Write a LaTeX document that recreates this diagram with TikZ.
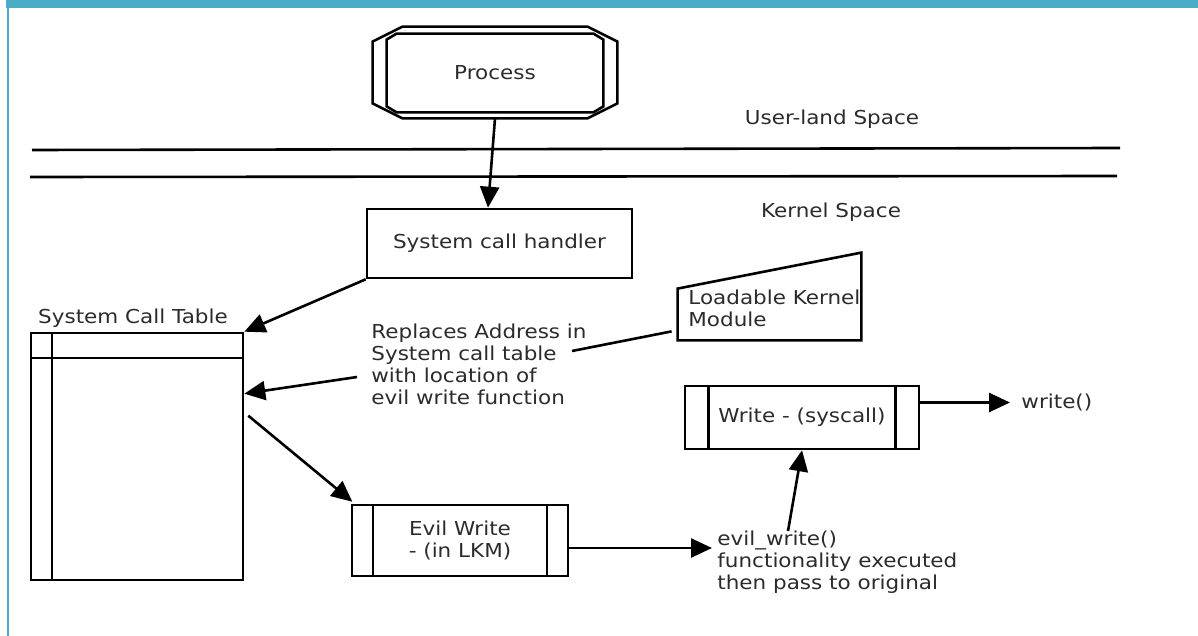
\documentclass[tikz,border=0pt]{standalone}
\usepackage{fontspec}
\setmainfont{DejaVu Sans}[FakeStretch=1.12]
\usepackage{xcolor}
\definecolor{cLine}{HTML}{000000}
\definecolor{cText}{HTML}{2B2B2B}
\definecolor{cFrame}{HTML}{4BACC6}
\usepackage{tikz}
\usetikzlibrary{positioning,arrows.meta}
\tikzset{
  node-box/.style={draw=cLine,line width=1.3pt,inner sep=0pt,align=center,
    text=cText},
  node-text/.style={text=cText,inner sep=0pt,align=left},
  node-line/.style={line width=1.3pt,draw=cLine},
  % predefined process: bars left and right
  node-sub/.style={node-box,path picture={
      \draw[cLine,line width=1.2pt]
        ([xshift=#1]path picture bounding box.north west)
        -- ([xshift=#1]path picture bounding box.south west);
      \draw[cLine,line width=1.2pt]
        ([xshift=-#1]path picture bounding box.north east)
        -- ([xshift=-#1]path picture bounding box.south east);}},
  node-sub/.default=10.5pt,
  node-table/.style={node-box,path picture={
      \draw[cLine,line width=1.1pt]
        ([xshift=10.5pt]path picture bounding box.north west)
        -- ([xshift=10.5pt]path picture bounding box.south west);
      \draw[cLine,line width=1.1pt]
        ([yshift=-12.5pt]path picture bounding box.north west)
        -- ([yshift=-12.5pt]path picture bounding box.north east);}},
  arrow/.style={-{Triangle[length=10.5pt,width=9.5pt]},line width=1.3pt,
    draw=cLine},
  sep-line/.style={line width=1.3pt,draw=cLine},
}

\begin{document}
\begin{tikzpicture}[x=0.5pt,y=-0.5pt,font=\fontsize{9.6}{10.9}\selectfont]
  \useasboundingbox (0,0) rectangle (1198,636);
  \fill[cFrame] (6,0) rectangle (1198,8);
  \draw[cFrame,line width=1pt] (7.5,8) -- (7.5,636);

  % process: two chamfered frames
  \node[node-text,minimum width=122pt,minimum height=45.5pt]
    (proc) at (495,72.5) {Process};
  \node[inner sep=0pt,minimum width=108pt,minimum height=39pt]
    (proc-in) at (495,73) {};
  \foreach \n/\dx/\dy in {proc/15pt/7.5pt,proc-in/5pt/3pt}
    \draw[node-line] ([xshift=\dx]\n.north west) -- ([xshift=-\dx]\n.north east)
      -- ([yshift=-\dy]\n.north east) -- ([yshift=\dy]\n.south east)
      -- ([xshift=-\dx]\n.south east) -- ([xshift=\dx]\n.south west)
      -- ([yshift=\dy]\n.south west) -- ([yshift=-\dy]\n.north west) -- cycle;

  \draw[sep-line] (32,150) -- (1120,148);
  \draw[sep-line] (30,177) -- (1117,176);
  \node[node-text] (user) at (832,119) {User-land Space};
  \node[node-text] (kern) at (831,212) {Kernel Space};

  \node[node-box,minimum width=132.5pt,minimum height=34.5pt]
    (sch) at (499.5,243.5) {System call handler};
  \node[node-table,minimum width=106pt,minimum height=123.5pt]
    (sct) at (137,456.5) {};
  \node[node-text,above=2pt of sct,xshift=-2pt] (sct-lbl) {System Call Table};

  % multi-line text: base = baseline of the last line
  \node[node-text,anchor=base west] (rep) at (371,404)
    {Replaces Address in\\System call table\\with location of\\evil write function};
  \node[minimum width=91.5pt,minimum height=25.5pt,inner sep=0pt]
    (lkm) at (769.5,314.5) {};
  \draw[node-line] (lkm.north west) -- ([yshift=18pt]lkm.north east)
    -- (lkm.south east) -- (lkm.south west) -- cycle;
  \node[node-text,anchor=base west] (lkm-txt) at (688,326)
    {Loadable Kernel\\Module};

  \node[node-sub,minimum width=108pt,minimum height=35.5pt]
    (ew) at (460,540.5) {Evil Write\\- (in LKM)};
  \node[node-sub=11.75pt,minimum width=117pt,minimum height=31.5pt]
    (wsys) at (802,417.5) {Write - (syscall)};
  \node[node-text,anchor=north west] (ewtxt) at (717,531)
    {evil\_write()\\functionality executed\\then pass to original};
  \node[node-text,anchor=west] (wr) at (1021,402) {write()};

  \coordinate (rep-out) at (572,351);
  \coordinate (rep-in)  at (357,377);
  \coordinate (ew-out)  at ([yshift=-3.75pt]ew.east);
  \coordinate (wsys-out) at ([yshift=7.5pt]wsys.east);

  \draw[arrow] (proc.south) -- ([xshift=-5.75pt]sch.north);
  \draw[arrow] (sch.south west) -- (sct.north east);
  \draw[arrow] (rep-in) -- ([yshift=-31pt]sct.north east);
  \draw[node-line] (rep-out) -- ([xshift=-3pt,yshift=4.5pt]lkm.south west);
  \draw[arrow,shorten >=1.5pt] ([xshift=2pt,yshift=-42pt]sct.north east)
    -- ([xshift=2pt]ew.north west);
  \draw[arrow,shorten >=2.5pt] (ew-out) -- (ew-out -| ewtxt.west);
  \draw[arrow] ([xshift=35.5pt]ewtxt.north west) -- (wsys.south);
  \draw[arrow,shorten >=5.5pt] (wsys-out) -- (wsys-out -| wr.west);
\end{tikzpicture}
\end{document}
